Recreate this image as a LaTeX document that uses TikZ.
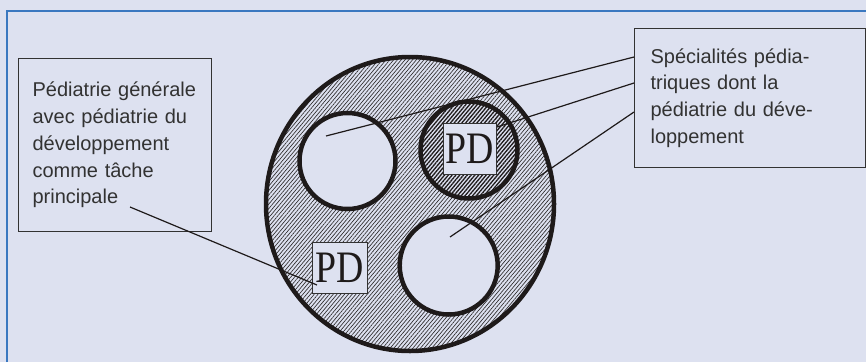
\documentclass[tikz,border=0pt]{standalone}
\usepackage{fontspec}
\setmainfont{Liberation Sans}
\newfontfamily\pdfont{Liberation Serif}
\usetikzlibrary{patterns.meta}
\definecolor{bg}{RGB}{221,225,240}
\definecolor{framecol}{RGB}{58,120,192}
\definecolor{txt}{RGB}{50,50,50}
\definecolor{hatch}{RGB}{45,42,42}
\definecolor{ink}{RGB}{30,26,26}
\begin{document}
\begin{tikzpicture}[x=1pt,y=-1pt,
  labelbox/.style={draw=txt, line width=1.1pt, fill=bg, anchor=north west,
    inner xsep=14pt, inner ysep=0pt, align=left, text=txt,
    font=\fontsize{20}{26.7}\selectfont},
  pdbox/.style={draw=txt, line width=0.9pt, fill=bg, inner sep=0pt,
    font=\pdfont\fontsize{45}{45}\selectfont, text=ink},
  ring/.style={draw=ink, line width=4.5pt},
  hatchfill/.style={pattern={Lines[angle=50,distance=2.9pt,line width=0.65pt]}, pattern color=hatch},
  densehatch/.style={pattern={Lines[angle=50,distance=2.9pt,line width=1.3pt]}, pattern color=ink},
  conn/.style={draw=ink, line width=1.2pt}]
\useasboundingbox (0,0) rectangle (866,362);
\fill[bg] (0,0) rectangle (866,362);
\draw[framecol, line width=1.6pt] (7,362) -- (7,11) -- (866,11);

% big hatched disc
\fill[hatchfill] (410,204) ellipse [x radius=144pt, y radius=147pt];
% white inner circles
\fill[bg] (347.5,161) circle [radius=48pt];
\fill[bg] (448.7,265.5) circle [radius=49pt];
\fill[bg] (469,150) circle [radius=48.5pt];
\fill[densehatch] (469,150) circle [radius=48.5pt];
% outlines
\draw[ring] (410,204) ellipse [x radius=144pt, y radius=147pt];
\draw[ring] (347.5,161) circle [radius=48pt];
\draw[ring] (448.7,265.5) circle [radius=49pt];
\draw[ring] (469,150) circle [radius=48.5pt];

% PD boxes
\node[pdbox, minimum width=53pt, minimum height=51pt] (pdA) at (469.5,148.5) {\raisebox{-2pt}{\scalebox{0.84}[1]{PD}}};
\node[pdbox, minimum width=55pt, minimum height=51pt] (pdB) at (339.5,267.5) {\raisebox{-2pt}{\scalebox{0.84}[1]{PD}}};

% label boxes
\node[labelbox, minimum width=193pt, minimum height=173pt, text width=165pt] (lbox) at (18,58)
  {Pédiatrie générale\\avec pédiatrie du\\développement\\comme tâche\\principale};
\node[labelbox, inner xsep=16pt, minimum width=231pt, minimum height=139pt, text width=199pt] (rbox) at (634,28)
  {Spécialités pédia-\\triques dont la\\pédiatrie du déve-\\loppement};

% connector ends
\coordinate (r1) at (634,57);
\coordinate (r2) at (634,83);
\coordinate (r3) at (634,112);
\coordinate (e1) at (326,136);
\coordinate (e2) at (497,127);
\coordinate (e3) at (450,237);
\coordinate (l0) at (130,207);
\coordinate (e4) at (317,285);
\draw[conn] (r1) -- (e1);
\draw[conn] (r2) -- (e2);
\draw[conn] (r3) -- (e3);
\draw[conn] (l0) -- (e4);
\end{tikzpicture}
\end{document}
